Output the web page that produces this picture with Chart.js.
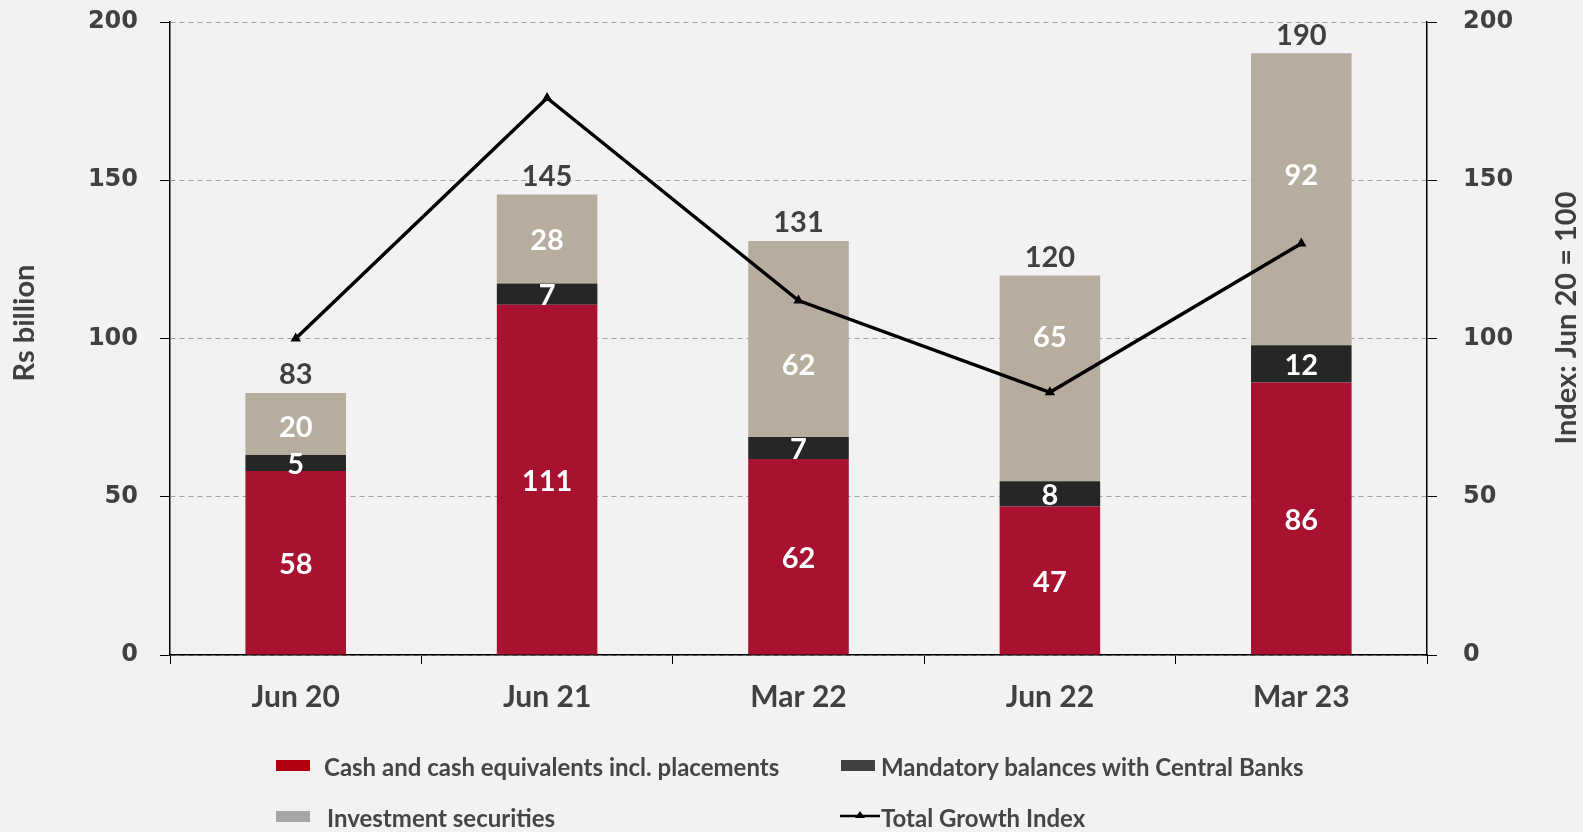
<!DOCTYPE html>
<html>
<head>
<meta charset="utf-8">
<script src="https://cdn.jsdelivr.net/npm/chart.js@4.4.1/dist/chart.umd.min.js"></script>
<style>
  html, body { margin: 0; padding: 0; background: #f2f2f2; }
  #wrap { position: relative; width: 1583px; height: 832px; }
  #chart { position: absolute; left: 0; top: 0; }
  .leg { position: absolute; font-family: Lato, sans-serif; font-weight: bold; font-size: 24px; color: #454545; white-space: nowrap; }
  .sw { position: absolute; width: 34px; height: 11px; }
</style>
</head>
<body>
<div id="wrap">
  <canvas id="chart" width="1583" height="832"></canvas>
  <div class="sw" style="left:276px;top:760px;background:#b0000f"></div>
  <div class="leg" style="left:324px;top:752px">Cash and cash equivalents incl. placements</div>
  <div class="sw" style="left:841px;top:760px;background:#404040"></div>
  <div class="leg" style="left:881px;top:752px">Mandatory balances with Central Banks</div>
  <div class="sw" style="left:276px;top:811px;background:#a6a6a6"></div>
  <div class="leg" style="left:327px;top:803px">Investment securities</div>
  <canvas id="lineKey" width="40" height="20" style="position:absolute;left:840px;top:806px"></canvas>
  <div class="leg" style="left:881px;top:803px">Total Growth Index</div>
</div>
<script>
const categories = ["Jun 20", "Jun 21", "Mar 22", "Jun 22", "Mar 23"];
const cashValues = [58.1, 110.7, 61.9, 46.9, 86.1];
const mandatoryValues = [5.1, 6.7, 7.0, 8.0, 11.8];
const investmentValues = [19.6, 28.1, 61.9, 65.0, 92.2];
const totalLabels = [83, 145, 131, 120, 190];
const growthIndex = [100, 176, 112, 83, 130];
const yTicks = [0, 50, 100, 150, 200];

const textGrey = "#404040";

// little legend key for the line
const lk = document.getElementById("lineKey").getContext("2d");
lk.strokeStyle = "#000"; lk.lineWidth = 2.5;
lk.beginPath(); lk.moveTo(0, 10); lk.lineTo(40, 10); lk.stroke();
lk.fillStyle = "#000";
lk.beginPath(); lk.moveTo(20, 5); lk.lineTo(25, 12); lk.lineTo(15, 12); lk.closePath(); lk.fill();

// segment values + totals + axis titles
const labelPlugin = {
    id: "labels",
    afterDatasetsDraw(chart, args, opts) {
        const ctx = chart.ctx;
        ctx.save();
        ctx.textAlign = "center";
        ctx.textBaseline = "middle";
        ctx.font = "bold 29px Lato";
        ctx.fillStyle = "#ffffff";
        [0, 1, 2].forEach(di => {
            const meta = chart.getDatasetMeta(di);
            meta.data.forEach((bar, i) => {
                const v = chart.data.datasets[di].data[i];
                // the original nudges a few labels off the line
                const nudge = di === 2 ? opts.topNudge[i] : 0;
                ctx.fillText(Math.round(v), bar.x, (bar.y + bar.base) / 2 + 2 + nudge);
            });
        });
        const top = chart.getDatasetMeta(2);
        ctx.fillStyle = textGrey;
        top.data.forEach((bar, i) => {
            ctx.fillText(totalLabels[i], bar.x, bar.y - 18);
        });
        // axis titles
        ctx.translate(25, 323);
        ctx.rotate(-Math.PI / 2);
        ctx.fillText("Rs billion", 0, 0);
        ctx.restore();
        ctx.save();
        ctx.fillStyle = textGrey;
        ctx.textAlign = "center";
        ctx.textBaseline = "middle";
        ctx.font = "bold 29px Lato";
        ctx.translate(1567, 318);
        ctx.rotate(-Math.PI / 2);
        ctx.fillText("Index: Jun 20 = 100", 0, 0);
        ctx.restore();
    }
};

const tickFont = { family: "DejaVu Sans", weight: "bold", size: 24 };

function noPad(s) {
    s.paddingTop = 0; s.paddingBottom = 0; s.paddingLeft = 0; s.paddingRight = 0;
}

new Chart(document.getElementById("chart"), {
    type: "bar",
    data: {
        labels: categories,
        datasets: [
            { label: "Cash and cash equivalents incl. placements", data: cashValues, backgroundColor: "#a8112f", order: 1, yAxisID: "y" },
            { label: "Mandatory balances with Central Banks", data: mandatoryValues, backgroundColor: "#262626", order: 1, yAxisID: "y" },
            { label: "Investment securities", data: investmentValues, backgroundColor: "#b7ad9f", order: 1, yAxisID: "y" },
            {
                type: "line", label: "Total Growth Index", data: growthIndex, yAxisID: "y1", order: 0,
                borderColor: "#000", borderWidth: 3.5, pointStyle: "triangle", pointRadius: 6,
                pointBackgroundColor: "#000", pointBorderColor: "#000", pointBorderWidth: 0, tension: 0
            }
        ]
    },
    options: {
        responsive: false,
        animation: false,
        layout: { padding: { left: 0, right: 0, top: 22, bottom: 0 } },
        datasets: { bar: { categoryPercentage: 1, barPercentage: 0.4 } },
        plugins: {
            legend: { display: false },
            tooltip: { enabled: false },
            labels: { topNudge: [2, 0, 25, -43, -26] }
        },
        scales: {
            x: {
                stacked: true,
                grid: { drawOnChartArea: false, drawTicks: true, tickLength: 9, tickColor: "#000", offset: true },
                border: { color: "#000", width: 1.5 },
                ticks: { color: textGrey, font: { family: "Lato", weight: "bold", size: 30 }, padding: 15 },
                afterFit(s) { s.height = 177; noPad(s); }
            },
            y: {
                stacked: true, min: 0, max: 200,
                afterBuildTicks(s) { s.ticks = yTicks.map(v => ({ value: v })); },
                grid: { color: "#a0a0a0", tickLength: 10, tickColor: "#000", tickBorderDash: [], lineWidth: 1 },
                border: { color: "#000", width: 1.5, dash: [5, 4] },
                ticks: { color: textGrey, font: tickFont, padding: 22 },
                afterFit(s) { s.width = 170; noPad(s); }
            },
            y1: {
                position: "right", min: 0, max: 200,
                afterBuildTicks(s) { s.ticks = yTicks.map(v => ({ value: v })); },
                grid: { drawOnChartArea: false, tickLength: 10, tickColor: "#000" },
                border: { color: "#000", width: 1.5 },
                ticks: { color: textGrey, font: tickFont, padding: 26 },
                afterFit(s) { s.width = 156; noPad(s); }
            }
        }
    },
    plugins: [labelPlugin]
});
</script>
</body>
</html>
